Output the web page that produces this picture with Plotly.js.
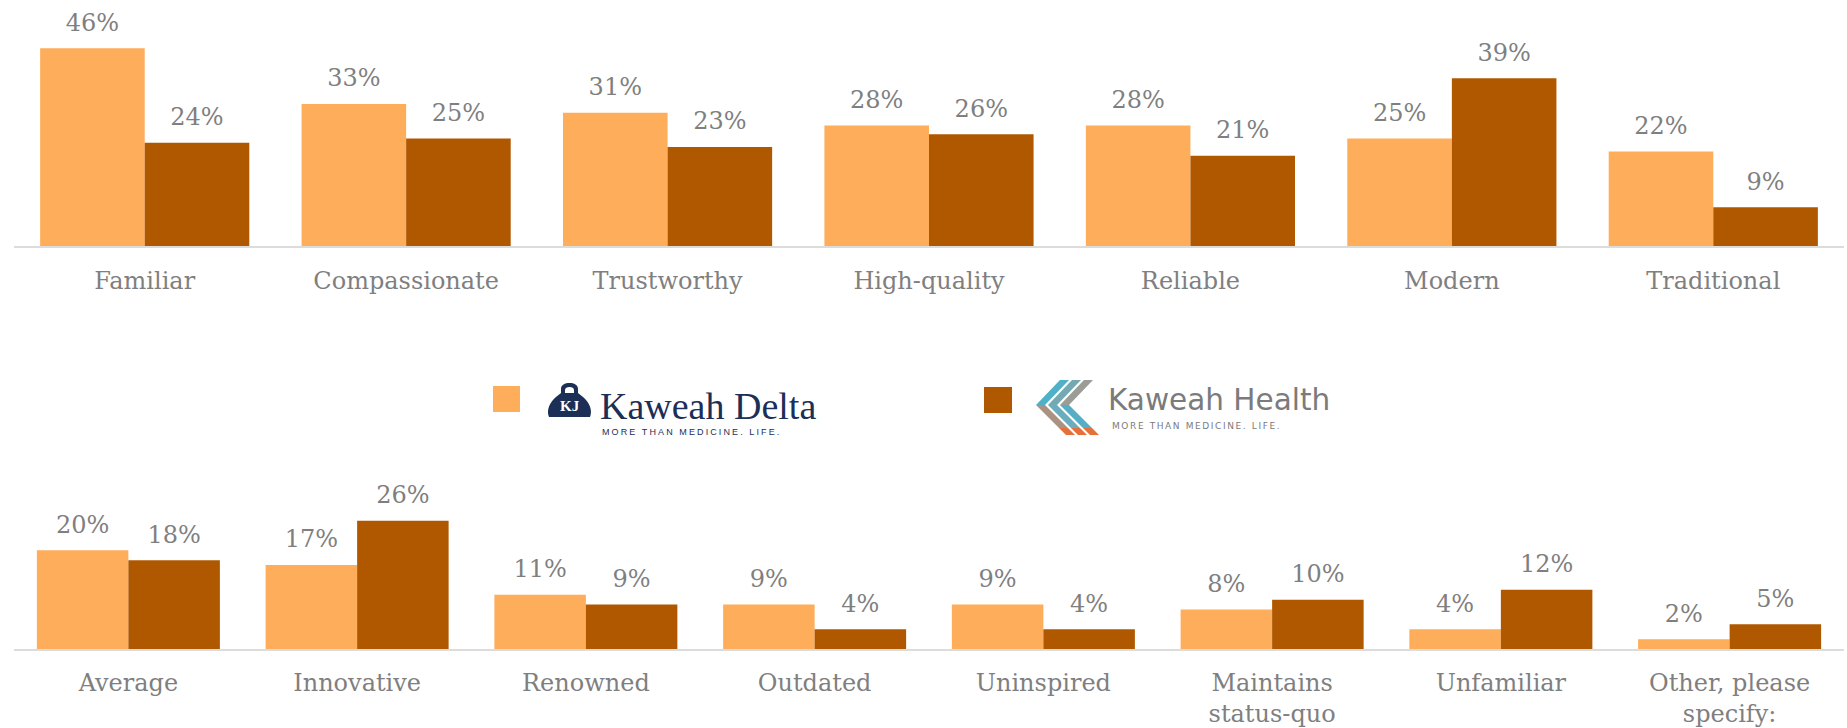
<!DOCTYPE html>
<html><head><meta charset="utf-8">
<script src="https://cdn.plot.ly/plotly-3.0.1.min.js"></script>
<style>html,body{margin:0;padding:0;background:#fff;}#chart{width:1847px;height:728px;}</style>
</head><body><div id="chart"></div>
<script>
// ---- data ----
const topCategories = ['Familiar', 'Compassionate', 'Trustworthy', 'High-quality', 'Reliable', 'Modern', 'Traditional'];
const topDelta = [46, 33, 31, 28, 28, 25, 22];
const topHealth = [24, 25, 23, 26, 21, 39, 9];
const bottomCategories = ['Average', 'Innovative', 'Renowned', 'Outdated', 'Uninspired', 'Maintains<br>status-quo', 'Unfamiliar', 'Other, please<br>specify:'];
const bottomDelta = [20, 17, 11, 9, 9, 8, 4, 2];
const bottomHealth = [18, 26, 9, 4, 4, 10, 12, 5];
const seriesNames = ['Kaweah Delta', 'Kaweah Health'];
const seriesColors = ['#FEAD5A', '#B05800'];
const tagline = 'MORE THAN MEDICINE. LIFE.';

// ---- style ----
const W = 1847, H = 728;
const SERIF = 'DejaVu Serif, serif';
const GREY = '#7f7f7f';
const fx = px => px / W;
const fy = py => 1 - py / H;
function path(cmds) {
  return cmds.map(c => {
    if (c[0] === 'Z') return 'Z';
    const nums = [];
    for (let i = 1; i < c.length; i += 2) nums.push(fx(c[i]).toFixed(5) + ',' + fy(c[i + 1]).toFixed(5));
    return c[0] + nums.join(' ');
  }).join(' ');
}

function panelTraces(cats, d1, d2, xa, ya) {
  const out = [];
  [d1, d2].forEach((vals, i) => {
    out.push({
      type: 'bar', x: cats, y: vals, name: seriesNames[i], xaxis: xa, yaxis: ya,
      marker: { color: seriesColors[i], line: { width: 0 } }, hoverinfo: 'x+y', showlegend: false
    });
  });
  [d1, d2].forEach((vals, i) => {
    out.push({
      type: 'scatter', mode: 'markers+text', orientation: 'v', x: cats, y: vals, xaxis: xa, yaxis: ya,
      text: vals.map(v => v + '%'), textposition: 'top center',
      textfont: { family: SERIF, size: 24, color: GREY },
      marker: { size: 17, opacity: 0 }, cliponaxis: false, hoverinfo: 'skip', showlegend: false
    });
  });
  return out;
}

const data = [].concat(
  panelTraces(topCategories, topDelta, topHealth, 'x', 'y'),
  panelTraces(bottomCategories, bottomDelta, bottomHealth, 'x2', 'y2')
);

const xCommon = {
  type: 'category', showline: true, linecolor: '#dcdcdc', linewidth: 2, ticks: '',
  tickfont: { family: SERIF, size: 24, color: GREY },
  showgrid: false, zeroline: false, fixedrange: true
};

// ---- legend decorations (logos drawn as shapes/text) ----
const shapes = [];
const annotations = [];
shapes.push({ type: 'rect', xref: 'paper', yref: 'paper', x0: fx(493), x1: fx(520), y0: fy(386), y1: fy(412), fillcolor: seriesColors[0], line: { width: 0 } });
shapes.push({ type: 'rect', xref: 'paper', yref: 'paper', x0: fx(984), x1: fx(1012), y0: fy(387), y1: fy(413), fillcolor: seriesColors[1], line: { width: 0 } });

// Kaweah Delta emblem
const NAVY = '#1c2f57';
shapes.push({ type: 'path', xref: 'paper', yref: 'paper', fillcolor: NAVY, line: { width: 0 },
  path: path([['M', 549, 417], ['C', 546, 410, 550, 402, 556, 397], ['L', 561, 393], ['L', 561, 389],
    ['C', 561, 385, 565, 383, 569.5, 383], ['C', 574, 383, 578, 385, 578, 389], ['L', 578, 393], ['L', 583, 397],
    ['C', 589, 402, 593, 410, 590, 417], ['Z']]) });
shapes.push({ type: 'path', xref: 'paper', yref: 'paper', fillcolor: '#ffffff', line: { width: 0 },
  path: path([['M', 565, 393], ['L', 565, 390], ['C', 565, 388, 567, 387, 569.5, 387], ['C', 572, 387, 574, 388, 574, 390], ['L', 574, 393], ['Z']]) });
annotations.push({ xref: 'paper', yref: 'paper', x: fx(569.5), y: fy(406), text: '<b>KJ</b>', showarrow: false,
  font: { family: 'Liberation Serif, serif', size: 15, color: '#ffffff' }, xanchor: 'center', yanchor: 'middle' });
annotations.push({ xref: 'paper', yref: 'paper', x: fx(598), y: fy(406), text: seriesNames[0], showarrow: false,
  font: { family: 'Liberation Serif, serif', size: 38, color: NAVY }, xanchor: 'left', yanchor: 'middle' });
annotations.push({ xref: 'paper', yref: 'paper', x: fx(600), y: fy(432), text: '<span style="letter-spacing:2.1px">' + tagline + '</span>', showarrow: false,
  font: { family: 'Liberation Sans, sans-serif', size: 9, color: NAVY }, xanchor: 'left', yanchor: 'middle' });

// Kaweah Health emblem (three chevron stripes)
const topCols = ['#4fb0c8', '#74a9b2', '#9b9c95'];
const midCols = ['#a99282', '#6aadbf', '#56adc6'];
const ORANGE_TIP = '#e6703a';
for (let k = 0; k < 3; k++) {
  const o = 12 * k;
  // top arm
  shapes.push({ type: 'path', xref: 'paper', yref: 'paper', fillcolor: topCols[k], line: { width: 0 },
    path: path([['M', 1060 + o, 380], ['L', 1069 + o, 380], ['L', 1045 + o, 405], ['L', 1036 + o, 405], ['Z']]) });
  // bottom arm
  shapes.push({ type: 'path', xref: 'paper', yref: 'paper', fillcolor: midCols[k], line: { width: 0 },
    path: path([['M', 1036 + o, 405], ['L', 1045 + o, 405], ['L', 1068 + o, 428], ['L', 1059 + o, 428], ['Z']]) });
  // orange tip
  shapes.push({ type: 'path', xref: 'paper', yref: 'paper', fillcolor: ORANGE_TIP, line: { width: 0 },
    path: path([['M', 1059 + o, 428], ['L', 1068 + o, 428], ['L', 1075 + o, 435], ['L', 1066 + o, 435], ['Z']]) });
}
annotations.push({ xref: 'paper', yref: 'paper', x: fx(1106), y: fy(400), text: seriesNames[1], showarrow: false,
  font: { family: 'DejaVu Sans, sans-serif', size: 29.5, color: '#7b7b7b' }, xanchor: 'left', yanchor: 'middle' });
annotations.push({ xref: 'paper', yref: 'paper', x: fx(1110), y: fy(426), text: '<span style="letter-spacing:1.6px">' + tagline + '</span>', showarrow: false,
  font: { family: 'DejaVu Sans, sans-serif', size: 9, color: '#7b7b7b' }, xanchor: 'left', yanchor: 'middle' });

const layout = {
  width: W, height: H, margin: { l: 0, r: 0, t: 0, b: 0, pad: 0 },
  paper_bgcolor: '#ffffff', plot_bgcolor: 'rgba(0,0,0,0)',
  barmode: 'group', bargap: 0.2, bargroupgap: 0,
  scattermode: 'group', scattergap: 0.2,
  showlegend: false,
  xaxis: Object.assign({}, xCommon, { domain: [fx(14), fx(1844)], anchor: 'y', ticklabelstandoff: 12 }),
  yaxis: { domain: [fy(246), 1], anchor: 'x', range: [0, 57.2], visible: false, fixedrange: true },
  xaxis2: Object.assign({}, xCommon, { domain: [fx(14), fx(1844)], anchor: 'y2', ticklabelstandoff: 11 }),
  yaxis2: { domain: [fy(649), fy(460)], anchor: 'x2', range: [0, 38.3], visible: false, fixedrange: true },
  shapes: shapes,
  annotations: annotations
};

Plotly.newPlot('chart', data, layout, { displayModeBar: false, staticPlot: true });
</script>
</body></html>
